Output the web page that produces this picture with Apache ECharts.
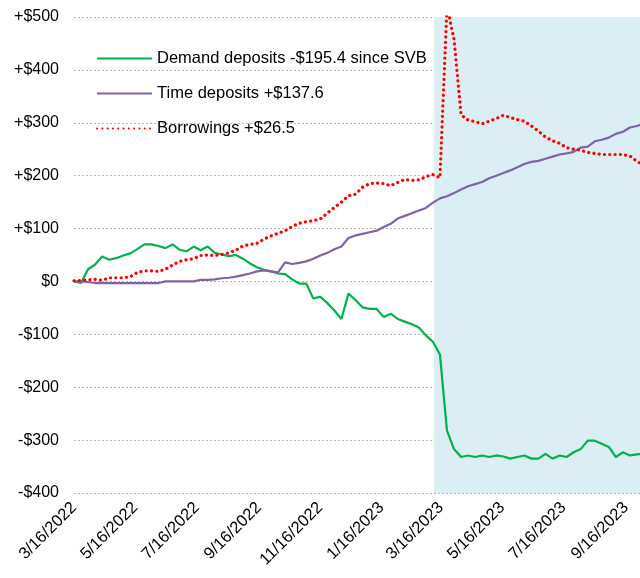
<!DOCTYPE html>
<html>
<head>
<meta charset="utf-8">
<script src="https://cdn.jsdelivr.net/npm/echarts@6/dist/echarts.min.js"></script>
<style>html,body{margin:0;padding:0;background:#fff;}#c{width:640px;height:578px;}</style>
</head>
<body>
<div id="c"></div>
<script>
// Weekly dates (Wednesdays)
const dates = [
'2022-03-16','2022-03-23','2022-03-30','2022-04-06','2022-04-13','2022-04-20','2022-04-27','2022-05-04','2022-05-11','2022-05-18',
'2022-05-25','2022-06-01','2022-06-08','2022-06-15','2022-06-22','2022-06-29','2022-07-06','2022-07-13','2022-07-20','2022-07-27',
'2022-08-03','2022-08-10','2022-08-17','2022-08-24','2022-08-31','2022-09-07','2022-09-14','2022-09-21','2022-09-28','2022-10-05',
'2022-10-12','2022-10-19','2022-10-26','2022-11-02','2022-11-09','2022-11-16','2022-11-23','2022-11-30','2022-12-07','2022-12-14',
'2022-12-21','2022-12-28','2023-01-04','2023-01-11','2023-01-18','2023-01-25','2023-02-01','2023-02-08','2023-02-15','2023-02-22',
'2023-03-01','2023-03-08','2023-03-15','2023-03-22','2023-03-29','2023-04-05','2023-04-12','2023-04-19','2023-04-26','2023-05-03',
'2023-05-10','2023-05-17','2023-05-24','2023-05-31','2023-06-07','2023-06-14','2023-06-21','2023-06-28','2023-07-05','2023-07-12',
'2023-07-19','2023-07-26','2023-08-02','2023-08-09','2023-08-16','2023-08-23','2023-08-30','2023-09-06','2023-09-13','2023-09-20',
'2023-09-27','2023-10-04'
];
const demandDeposits = [
0,-3,23,32,47,41,44,49,53,61,
70,70,67,63,70,60,57,66,59,66,
54,51,48,50,43,34,27,22,19,15,
14,4,-4,-4,-32,-29,-41,-55,-71,-23,
-35,-49,-52,-52,-67,-61,-71,-76,-81,-87,
-102,-114,-138,-282,-317,-332,-329,-332,-329,-332,
-329,-331,-335,-332,-329,-335,-335,-326,-335,-329,
-332,-323,-317,-301,-301,-307,-313,-332,-323,-329,
-327,-326
];
const timeDeposits = [
0,0,-1,-3,-3,-3,-3,-3,-3,-3,
-3,-3,-3,0,0,0,0,0,3,3,
4,6,7,9,12,15,19,21,19,17,
36,33,35,38,43,49,54,61,66,82,
87,90,93,96,103,109,119,124,129,134,
139,149,157,161,167,174,180,184,188,195,
200,205,210,216,222,226,228,232,236,240,
242,245,253,255,265,268,272,279,283,291,
294,299
];
const borrowings = [
1,2,3,4,2,7,7,7,9,17,
20,20,19,23,31,38,41,43,49,50,
49,51,54,59,67,70,72,80,86,91,
96,104,110,113,115,118,129,140,150,162,
165,178,185,186,185,181,187,193,191,192,
198,202,196,520,458,315,305,302,298,303,
308,314,310,306,303,294,284,273,266,261,
253,250,248,244,242,240,240,240,240,237,
227,220
];
const seriesNames = ['Demand deposits -$195.4 since SVB','Time deposits +$137.6','Borrowings +$26.5'];
const tickDates = ['2022-03-16','2022-05-16','2022-07-16','2022-09-16','2022-11-16','2023-01-16','2023-03-16','2023-05-16','2023-07-16','2023-09-16'];
const yTicks = [-400,-300,-200,-100,0,100,200,300,400,500];
const shadeStart = '2023-03-09';
const axisMin = '2022-03-16';
const axisMax = '2023-09-30';

function ts(s){const p=s.split('-').map(Number);return Date.UTC(p[0],p[1]-1,p[2]);}
function pairs(arr){return dates.map((d,i)=>[ts(d),arr[i]]);}

const font = "'Liberation Sans',Arial,sans-serif";
const chart = echarts.init(document.getElementById('c'), null, {renderer:'canvas'});
chart.setOption({
  animation:false,
  backgroundColor:'#ffffff',
  grid:{left:74,right:0,top:17,bottom:85,containLabel:false},
  legend:{
    orient:'vertical', left:91, top:45, itemWidth:55, itemHeight:14, itemGap:18,
    itemStyle:{opacity:0},
    textStyle:{fontFamily:font,fontSize:16.5,lineHeight:14,height:14,color:'#000'},
    data:seriesNames
  },
  xAxis:{
    type:'value', min:ts(axisMin), max:ts(axisMax),
    axisLine:{show:false}, axisTick:{show:false}, splitLine:{show:false},
    axisLabel:{
      customValues:tickDates.map(ts), rotate:45, margin:12,
      fontFamily:font, fontSize:16.5, color:'#000',
      formatter:function(v){const d=new Date(v);return (d.getUTCMonth()+1)+'/'+d.getUTCDate()+'/'+d.getUTCFullYear();}
    }
  },
  yAxis:{
    type:'value', min:yTicks[0], max:yTicks[yTicks.length-1], interval:100,
    axisLine:{show:false}, axisTick:{show:false},
    splitLine:{show:true,lineStyle:{color:'#b8b8b8',type:[2,2],width:1}},
    axisLabel:{
      margin:15, fontFamily:font, fontSize:16, color:'#000',
      formatter:function(v){return v>0?'+$'+v:(v<0?'-$'+Math.abs(v):'$0');}
    }
  },
  series:[
    {name:seriesNames[0],type:'line',data:pairs(demandDeposits),symbol:'none',clip:true,
     lineStyle:{color:'#00B050',width:2.2},itemStyle:{color:'#00B050'},z:3,
     markArea:{silent:true,itemStyle:{color:'#DAEEF3'},data:[[{xAxis:ts(shadeStart)},{xAxis:ts(axisMax)}]]}},
    {name:seriesNames[1],type:'line',data:pairs(timeDeposits),symbol:'none',clip:true,
     lineStyle:{color:'#8064A2',width:2.2},itemStyle:{color:'#8064A2'},z:3},
    {name:seriesNames[2],type:'line',data:pairs(borrowings),symbol:'none',clip:true,
     lineStyle:{color:'#FF0000',width:3.2,type:[0.1,5.2],cap:'round'},itemStyle:{color:'#FF0000'},z:4}
  ]
});
</script>
</body>
</html>
